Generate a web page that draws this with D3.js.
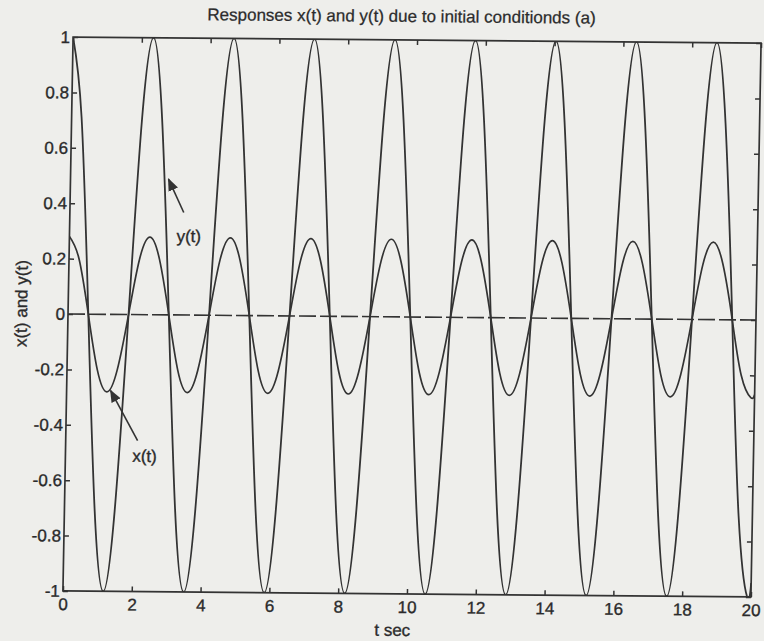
<!DOCTYPE html>
<html>
<head>
<meta charset="utf-8">
<script src="https://cdn.jsdelivr.net/npm/d3@7"></script>
<style>
  html, body { margin: 0; padding: 0; background: #eeeeeb; }
  svg { display: block; }
  text { font-family: "Liberation Sans", Arial, Helvetica, sans-serif; fill: #2b2b2b; }
</style>
</head>
<body>
<svg id="chart" width="764" height="641"></svg>
<script>
// Sample times (s) and the two responses read at those times
const timeSec = [
  0.00, 0.29, 0.59, 0.88, 1.17, 1.46, 1.76, 2.05,
  2.34, 2.63, 2.93, 3.22, 3.51, 3.80, 4.10, 4.39,
  4.68, 4.97, 5.27, 5.56, 5.85, 6.14, 6.44, 6.73,
  7.02, 7.31, 7.61, 7.90, 8.19, 8.48, 8.78, 9.07,
  9.36, 9.65, 9.95, 10.24, 10.53, 10.82, 11.12, 11.41,
  11.70, 11.99, 12.29, 12.58, 12.87, 13.16, 13.46, 13.75,
  14.04, 14.33, 14.63, 14.92, 15.21, 15.50, 15.80, 16.09,
  16.38, 16.67, 16.97, 17.26, 17.55, 17.84, 18.14, 18.43,
  18.72, 19.01, 19.31, 19.60, 19.89, 20.00
];
const yResponse = [
  1, 0.71, 0, -0.71, -1, -0.71, 0, 0.71,
  1, 0.71, 0, -0.71, -1, -0.71, 0, 0.71,
  1, 0.71, 0, -0.71, -1, -0.71, 0, 0.71,
  1, 0.71, 0, -0.71, -1, -0.71, 0, 0.71,
  1, 0.71, 0, -0.71, -1, -0.71, 0, 0.71,
  1, 0.71, 0, -0.71, -1, -0.71, 0, 0.71,
  1, 0.71, 0, -0.71, -1, -0.71, 0, 0.71,
  1, 0.71, 0, -0.71, -1, -0.71, 0, 0.71,
  1, 0.71, 0, -0.71, -1, -0.95
];
const xResponse = [
  0.28, 0.2, 0, -0.2, -0.28, -0.2, 0, 0.2,
  0.28, 0.2, 0, -0.2, -0.28, -0.2, 0, 0.2,
  0.28, 0.2, 0, -0.2, -0.28, -0.2, 0, 0.2,
  0.28, 0.2, 0, -0.2, -0.28, -0.2, 0, 0.2,
  0.28, 0.2, 0, -0.2, -0.28, -0.2, 0, 0.2,
  0.28, 0.2, 0, -0.2, -0.28, -0.2, 0, 0.2,
  0.28, 0.2, 0, -0.2, -0.28, -0.2, 0, 0.2,
  0.28, 0.2, 0, -0.2, -0.28, -0.2, 0, 0.2,
  0.28, 0.2, 0, -0.2, -0.28, -0.27
];
const zeroLineT = [0, 20];
const zeroLineV = [0, 0];

const xTickValues = [0, 2, 4, 6, 8, 10, 12, 14, 16, 18, 20];
const xTickLabels = ["0", "2", "4", "6", "8", "10", "12", "14", "16", "18", "20"];
const yTickValues = [-1, -0.8, -0.6, -0.4, -0.2, 0, 0.2, 0.4, 0.6, 0.8, 1];
const yTickLabels = ["-1", "-0.8", "-0.6", "-0.4", "-0.2", "0", "0.2", "0.4", "0.6", "0.8", "1"];

// Callouts in data units: arrow tip on the curve, arrow tail, label centre
const callouts = [
  { text: "y(t)", tip: [2.85, 0.49], tail: [3.31, 0.37], label: [3.47, 0.285] },
  { text: "x(t)", tip: [1.28, -0.275], tail: [2.09, -0.455], label: [2.3, -0.51] }
];

const titleText = "Responses x(t) and y(t) due to initial conditionds (a)";
const xLabelText = "t sec";
const yLabelText = "x(t) and y(t)";

// ---- layout ----
const plot = { left: 68, right: 756, top: 40, bottom: 594 };
const cx = (plot.left + plot.right) / 2, cy = (plot.top + plot.bottom) / 2;
const ink = "#333333";
const fontPx = 17;

const svg = d3.select("#chart");
// the printed page sits slightly turned and sheared
const g = svg.append("g")
  .attr("transform", `translate(${cx},${cy}) rotate(0.5) skewX(-0.55) translate(${-cx},${-cy})`);

const x = d3.scaleLinear().domain([0, 20]).range([plot.left, plot.right]);
const y = d3.scaleLinear().domain([-1, 1]).range([plot.bottom, plot.top]);

svg.append("clipPath").attr("id", "plotClip")
  .append("rect")
  .attr("x", plot.left).attr("y", plot.top)
  .attr("width", plot.right - plot.left).attr("height", plot.bottom - plot.top);

// Axes with inward ticks on all four sides
const fmtX = (d, i) => xTickLabels[i];
const fmtY = (d, i) => yTickLabels[i];

const styleAxis = sel => {
  sel.select(".domain").remove();
  sel.selectAll(".tick line").attr("stroke", ink).attr("stroke-width", 1.5);
  sel.selectAll(".tick text").attr("font-size", fontPx).attr("fill", "#2b2b2b")
    .attr("stroke", "#2b2b2b").attr("stroke-width", 0.35)
    .attr("font-family", "'Liberation Sans', Arial, sans-serif");
};

g.append("g").attr("transform", `translate(0,${plot.bottom})`)
  .call(d3.axisBottom(x).tickValues(xTickValues).tickFormat(fmtX).tickSize(-5).tickPadding(7))
  .call(styleAxis);
g.append("g").attr("transform", `translate(0,${plot.top})`)
  .call(d3.axisTop(x).tickValues(xTickValues).tickFormat("").tickSize(-5))
  .call(styleAxis);
g.append("g").attr("transform", `translate(${plot.left},0)`)
  .call(d3.axisLeft(y).tickValues(yTickValues).tickFormat(fmtY).tickSize(-5).tickPadding(3))
  .call(styleAxis);
g.append("g").attr("transform", `translate(${plot.right},0)`)
  .call(d3.axisRight(y).tickValues(yTickValues).tickFormat("").tickSize(-5))
  .call(styleAxis);

// Frame
g.append("rect")
  .attr("x", plot.left).attr("y", plot.top)
  .attr("width", plot.right - plot.left).attr("height", plot.bottom - plot.top)
  .attr("fill", "none").attr("stroke", ink).attr("stroke-width", 1.7);

// Curves
const line = d3.line().x(d => x(d[0])).y(d => y(d[1])).curve(d3.curveNatural);
const curves = g.append("g").attr("clip-path", "url(#plotClip)");

curves.append("path")
  .datum(zeroLineT.map((t, i) => [t, zeroLineV[i]]))
  .attr("d", d3.line().x(d => x(d[0])).y(d => y(d[1])))
  .attr("fill", "none").attr("stroke", ink).attr("stroke-width", 1.6)
  .attr("stroke-dasharray", "17,4");

curves.append("path")
  .datum(timeSec.map((t, i) => [t, yResponse[i]]))
  .attr("d", line)
  .attr("fill", "none").attr("stroke", ink).attr("stroke-width", 1.8);

curves.append("path")
  .datum(timeSec.map((t, i) => [t, xResponse[i]]))
  .attr("d", line)
  .attr("fill", "none").attr("stroke", ink).attr("stroke-width", 1.7);

// Callout arrows and labels
const defs = svg.append("defs");
defs.append("marker").attr("id", "head")
  .attr("viewBox", "0 0 10 10").attr("refX", 9).attr("refY", 5)
  .attr("markerWidth", 8).attr("markerHeight", 8).attr("orient", "auto")
  .append("path").attr("d", "M0,1 L10,5 L0,9 Z").attr("fill", ink);

callouts.forEach(c => {
  g.append("line")
    .attr("x1", x(c.tail[0])).attr("y1", y(c.tail[1]))
    .attr("x2", x(c.tip[0])).attr("y2", y(c.tip[1]))
    .attr("stroke", ink).attr("stroke-width", 1.6)
    .attr("marker-end", "url(#head)");
  g.append("text")
    .attr("x", x(c.label[0])).attr("y", y(c.label[1])).attr("dy", "0.35em")
    .attr("text-anchor", "middle").attr("font-size", fontPx)
    .attr("stroke", "#2b2b2b").attr("stroke-width", 0.35)
    .text(c.text);
});

// Titles
g.append("text")
  .attr("x", 396).attr("y", 22)
  .attr("text-anchor", "middle").attr("font-size", fontPx)
  .attr("stroke", "#2b2b2b").attr("stroke-width", 0.25)
  .text(titleText);
g.append("text")
  .attr("x", 398).attr("y", 636)
  .attr("text-anchor", "middle").attr("font-size", fontPx)
  .attr("stroke", "#2b2b2b").attr("stroke-width", 0.35)
  .text(xLabelText);
g.append("text")
  .attr("transform", `translate(27, 307) rotate(-90)`)
  .attr("text-anchor", "middle").attr("font-size", fontPx)
  .attr("stroke", "#2b2b2b").attr("stroke-width", 0.35)
  .text(yLabelText);
</script>
</body>
</html>
